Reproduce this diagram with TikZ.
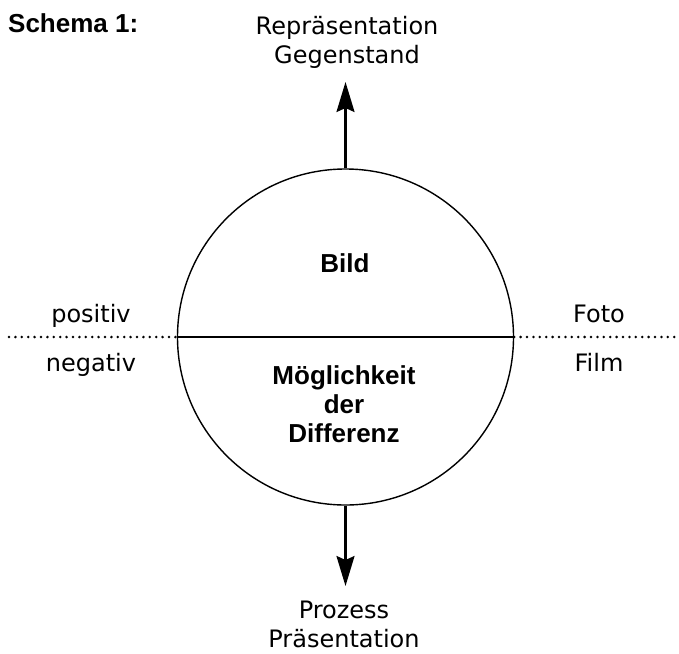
\documentclass[tikz,border=0pt]{standalone}
\usepackage{fontspec}
\setmainfont{DejaVu Sans}
\newfontfamily\fettfont{Liberation Sans}
\usetikzlibrary{arrows.meta}

\begin{document}
\begin{tikzpicture}[x=1pt,y=-1pt,
        lbl/.style={font=\fontsize{24}{28.5}\selectfont,inner sep=0pt,align=center,anchor=base},
        bld/.style={lbl,font=\fontsize{26}{29}\selectfont\fettfont\bfseries},
        pfeil/.style={line width=2.2pt,-{Stealth[length=30pt,width=18pt,inset=4pt]}},
        punkte/.style={line width=2.8pt,line cap=round,dash pattern=on 0pt off 6.4pt}]
    \useasboundingbox (0,0) rectangle (679,653);
    \node[draw,circle,line width=1.4pt,minimum size=336pt,inner sep=0pt] (kreis) at (345.5,337) {};
    \coordinate (links) at (9,337);
    \coordinate (rechts) at (679,337);
    \coordinate (oben) at (345.5,82);
    \coordinate (unten) at (345.5,586);
    \draw[line width=1.4pt] (kreis.west) -- (kreis.east);
    \draw[punkte] (links) -- (kreis.west);
    \draw[punkte] (kreis.east) -- (rechts);
    \draw[pfeil] (kreis.north) -- (oben);
    \draw[pfeil] (kreis.south) -- (unten);
    % labels (base = baseline of the last line)
    \node[bld,anchor=base west] (titel) at (8,32) {Schema 1:};
    \node[lbl] (gegenstand) at (347,63) {Repräsentation\\Gegenstand};
    \node[lbl] (praesentation) at (344,647) {Prozess\\Präsentation};
    \node[bld] (bild) at (345,272) {Bild};
    \node[bld] (differenz) at (344,442) {Möglichkeit\\der\\Differenz};
    \foreach \x/\y/\t in {91/322/positiv,91/371/negativ,599/322/Foto,599/371/Film} {
        \node[lbl] (\t) at (\x,\y) {\t};
    }
\end{tikzpicture}
\end{document}
